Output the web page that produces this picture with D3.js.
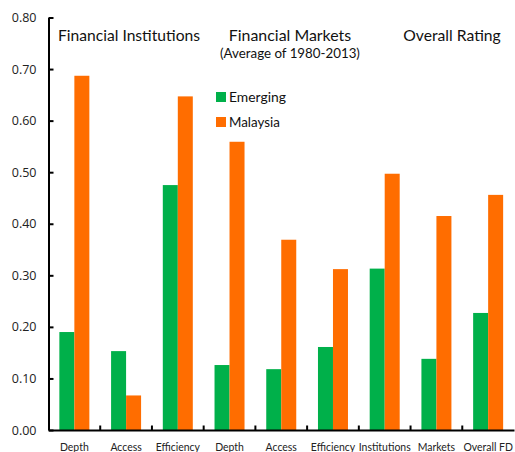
<!DOCTYPE html>
<html><head><meta charset="utf-8">
<script src="https://cdn.jsdelivr.net/npm/d3@7"></script>
<style>
html,body{margin:0;padding:0;background:#fff;}
svg{display:block;font-family:Lato,"Open Sans",sans-serif;}
</style></head>
<body>
<svg id="c" width="515" height="452"></svg>
<script>
const categories = ["Depth","Access","Efficiency","Depth","Access","Efficiency","Institutions","Markets","Overall FD"];
const emerging = [0.190,0.153,0.475,0.126,0.118,0.161,0.313,0.138,0.227];
const malaysia = [0.687,0.067,0.647,0.559,0.369,0.312,0.497,0.415,0.456];
const seriesNames = ["Emerging","Malaysia"];
const seriesColors = ["#00B04A","#FF6D00"];
const yTicks = [0,0.1,0.2,0.3,0.4,0.5,0.6,0.7,0.8];
const groupTitles = ["Financial Institutions","Financial Markets","Overall Rating"];
const subTitle = "(Average of 1980-2013)";

const svg = d3.select("#c");
const y = d3.scaleLinear().domain([0,0.8]).range([430,17.5]);
const x = d3.scaleBand().domain(categories.map((d,i)=>i)).range([48.5,514]).paddingInner(0).paddingOuter(0);
const inner = d3.scaleBand().domain([0,1]).range([0,30]);
const offs = x.bandwidth()/2 - 15;

function fit(t, w){
  const L = t.node().getComputedTextLength();
  const fs = parseFloat(t.attr("font-size"));
  t.attr("font-size", fs*w/L);
  return fs*w/L;
}

// bars
const series = [emerging, malaysia];
series.forEach((vals,si)=>{
  svg.append("g").selectAll("rect").data(vals).join("rect")
    .attr("x",(d,i)=>x(i)+offs+inner(si))
    .attr("y",d=>y(d))
    .attr("width",inner.bandwidth())
    .attr("height",d=>y(0)-y(d))
    .attr("fill",seriesColors[si]);
});

// y axis
const yAxis = d3.axisLeft(y).tickValues(yTicks).tickFormat(d3.format(".2f")).tickSizeInner(-5).tickSizeOuter(0).tickPadding(12);
const gy = svg.append("g").attr("transform","translate(48.5,0)").call(yAxis);
gy.select(".domain").attr("stroke","#000").attr("stroke-width",2);
gy.selectAll(".tick line").attr("stroke","#000").attr("stroke-width",2);
gy.selectAll(".tick text").attr("font-size",12.5).attr("fill","#222").attr("font-family","'Open Sans',sans-serif");

// x axis
const xAxis = d3.axisBottom(x).tickFormat(i=>categories[i]).tickSize(0).tickPadding(0);
const gx = svg.append("g").attr("transform","translate(0,430)").call(xAxis);
gx.select(".domain").attr("stroke","#000").attr("stroke-width",2);
const xt = gx.selectAll(".tick text").attr("font-size",12).attr("fill","#222").attr("dy",null).attr("y",20.5).attr("font-family","Lato,sans-serif");
// uniform size, fitted on the widest label ("Institutions")
const fsX = fit(xt.filter((d,i)=>i===6), 52);
xt.attr("font-size", fsX);
// tick marks at band boundaries (inward)
svg.append("g").selectAll("line").data(categories.map((d,i)=>i).slice(1)).join("line")
  .attr("x1",i=>x(i)).attr("x2",i=>x(i)).attr("y1",430).attr("y2",425.5)
  .attr("stroke","#000").attr("stroke-width",2);

// titles
const titleSpecs = [[129,41,142],[290,41,122.5],[452,41,97.5]];
groupTitles.forEach((s,i)=>{
  const t = svg.append("text").attr("x",titleSpecs[i][0]).attr("y",titleSpecs[i][1])
    .attr("text-anchor","middle").attr("font-size",16).attr("fill","#111").text(s);
  fit(t,titleSpecs[i][2]);
});
const st = svg.append("text").attr("x",290).attr("y",58).attr("text-anchor","middle")
  .attr("font-size",13).attr("fill","#111").text(subTitle);
fit(st,140);

// legend
seriesNames.forEach((s,i)=>{
  const yy = 92 + i*25;
  svg.append("rect").attr("x",216).attr("y",yy).attr("width",10).attr("height",10).attr("fill",seriesColors[i]);
  const t = svg.append("text").attr("x",229).attr("y",yy+9.5).attr("font-size",14).attr("fill","#111").text(s);
  fit(t, i===0 ? 57 : 51);
});
</script>
</body></html>
